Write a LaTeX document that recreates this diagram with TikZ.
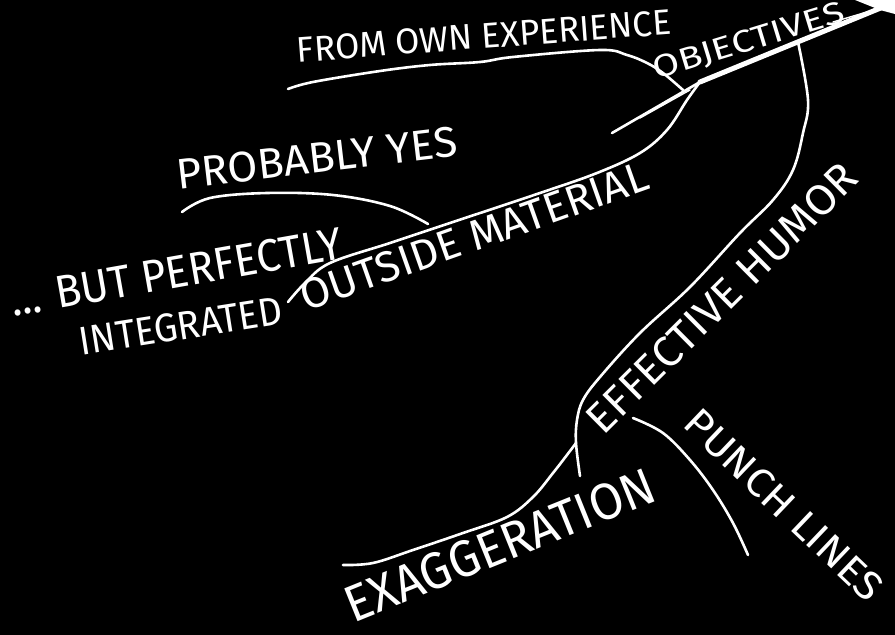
\documentclass[tikz,border=0pt]{standalone}
\usepackage{fontspec}
\setmainfont{Fira Sans}
\usepackage{graphicx}
\newcommand\hw[3]{\resizebox{#1pt}{#2pt}{#3}}
\begin{document}
\begin{tikzpicture}[x=1pt,y=-1pt,
  stroke/.style={draw=white, line width=2.6pt, line cap=round, line join=round},
  thickstroke/.style={draw=white, line width=5pt, line cap=round},
  lbl/.style={text=white, inner sep=0pt, anchor=center}]
\fill[black] (0,0) rectangle (895,635);
\useasboundingbox (0,0) rectangle (895,635);

% named points
\coordinate (top) at (888,5);
\coordinate (hub) at (700,82);
\coordinate (tail) at (612,133);
\coordinate (fromA) at (288,89);
\coordinate (fromB) at (683,90);
\coordinate (intD) at (288,302);
\coordinate (probA) at (182,212);
\coordinate (probB) at (428,224);
\coordinate (effA) at (798,42);
\coordinate (effJ) at (576,443);
\coordinate (effB) at (580,476);
\coordinate (exB) at (343,565);
\coordinate (punA) at (633,418);
\coordinate (punB) at (748,555);

% main branch (objectives)
\draw[thickstroke] (hub) -- (top);
\fill[white] (855,0) -- (895,0) -- (895,14) -- (880,10) -- cycle;
\draw[stroke] (hub) -- (tail);
\draw[white, line width=1.4pt, line cap=round] (640,118) -- (690,90);
\draw[white, line width=1.4pt, line cap=round] (833,22) -- (867,12);

% from own experience
\draw[stroke] plot[smooth, tension=0.6] coordinates {(fromA) (313,82) (380,71) (430,65) (480,62) (513,57) (600,50) (627,55) (647,63) (663,73) (fromB)};

% outside material
\draw[stroke] plot[smooth, tension=0.6] coordinates {(hub) (687,100) (667,130) (640,153) (597,173) (540,193) (450,223) (390,243) (330,263) (305,283) (intD)};

% probably yes
\draw[stroke] plot[smooth, tension=0.6] coordinates {(probA) (210,198) (267,193) (333,195) (390,206) (probB)};

% effective humor
\draw[stroke] plot[smooth, tension=0.6] coordinates {(effA) (808,100) (803,133) (793,170) (773,200) (740,233) (690,287) (640,333) (600,377) (583,400) (577,420) (effJ) (effB)};

% exaggeration
\draw[stroke] plot[smooth, tension=0.6] coordinates {(effJ) (570,451) (553,473) (533,497) (507,517) (463,533) (413,550) (373,563) (exB)};

% punch lines
\draw[stroke] plot[smooth, tension=0.6] coordinates {(punA) (663,433) (690,460) (713,490) (733,523) (punB)};

% labels
\node[lbl, rotate=4.3] (lfrom) at (484,36) {\hw{375}{25}{FROM OWN EXPERIENCE}};
\node[lbl, rotate=17] (lobj) at (749,42) {\hw{198}{22}{OBJECTIVES}};
\node[lbl, rotate=6.7] (lprob) at (317,158) {\hw{282}{30}{PROBABLY YES}};
\node[lbl, rotate=10] (lbut) at (176,272) {\hw{336}{32}{... BUT PERFECTLY}};
\node[lbl, rotate=9] (lint) at (181,326) {\hw{205}{28}{INTEGRATED}};
\node[lbl, rotate=19.5] (lout) at (474,236) {\hw{366}{30}{OUTSIDE MATERIAL}};
\node[lbl, rotate=44.8] (leff) at (722,298) {\hw{362}{30}{EFFECTIVE HUMOR}};
\node[lbl, rotate=22] (lexa) at (500,545) {\hw{330}{36}{EXAGGERATION}};
\node[lbl, rotate=-43.6] (lpun) at (784,505) {\hw{258}{28}{PUNCH LINES}};
\end{tikzpicture}
\end{document}
